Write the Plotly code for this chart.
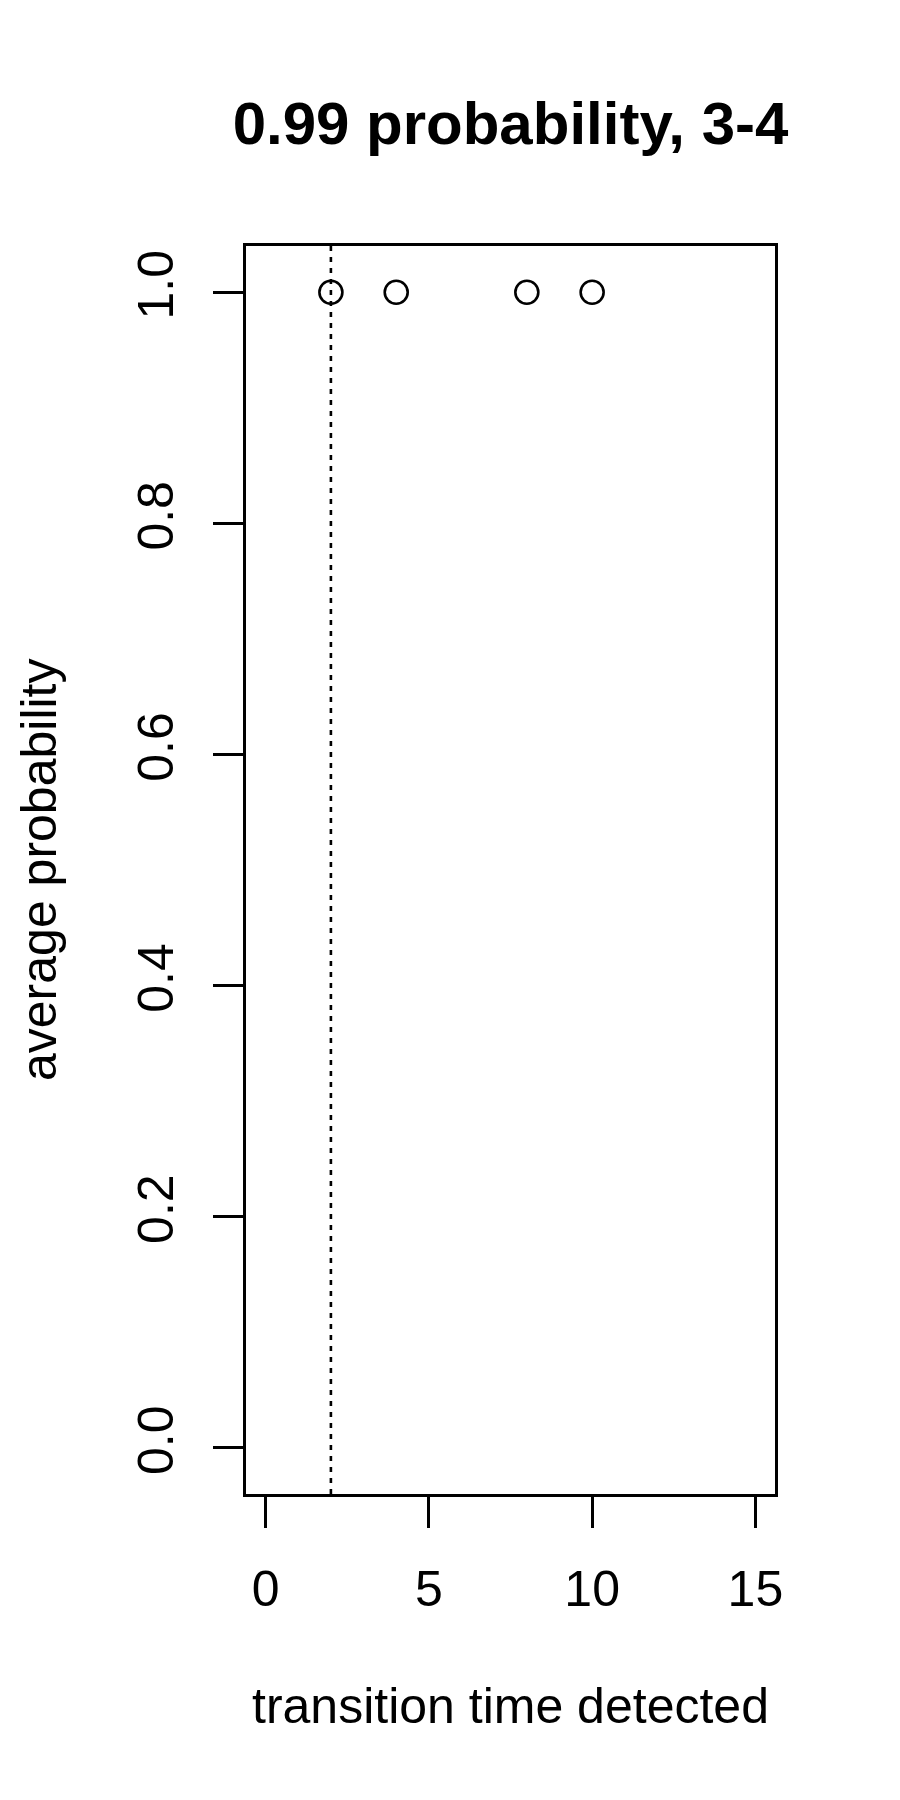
import plotly.graph_objects as go

# Data
transition_time = [2, 4, 8, 10]
avg_probability = [1.0, 1.0, 1.0, 1.0]
true_transition = 2
x_ticks = [0, 5, 10, 15]
y_ticks = [0.0, 0.2, 0.4, 0.6, 0.8, 1.0]
y_tick_text = ["0.0", "0.2", "0.4", "0.6", "0.8", "1.0"]

FONT = "Liberation Sans, Arial, Helvetica, sans-serif"

fig = go.Figure()
fig.add_trace(go.Scatter(
    x=transition_time, y=avg_probability, mode="markers",
    marker=dict(symbol="circle-open", size=23, color="black",
                line=dict(color="black", width=2.6)),
    showlegend=False, hoverinfo="x+y"))

fig.add_shape(type="line", xref="x", yref="paper",
              x0=true_transition, x1=true_transition, y0=0, y1=1,
              line=dict(color="black", width=2.6, dash="5px,6px"), layer="below")

W, H = 900, 1800
L, R, T, B = 246, 125, 246, 306

fig.update_layout(
    width=W, height=H,
    margin=dict(l=L, r=R, t=T, b=B, pad=0),
    paper_bgcolor="white", plot_bgcolor="white",
    font=dict(family=FONT, size=50, color="black"),
    title=dict(text="<b>0.99 probability, 3-4</b>", x=(L + (W - R)) / 2 / W,
               xanchor="center", xref="container",
               y=1 - 123 / H, yanchor="middle", yref="container",
               font=dict(size=60, family=FONT, color="black")),
    xaxis=dict(range=[-0.6, 15.6], tickvals=x_ticks, ticktext=[str(v) for v in x_ticks],
               showgrid=False, zeroline=False, showline=True, mirror=True,
               linecolor="black", linewidth=2.6, ticks="outside", ticklen=31,
               tickwidth=2.6, tickcolor="black", ticklabelstandoff=18,
               tickfont=dict(size=50, family=FONT)),
    yaxis=dict(range=[-0.04, 1.04], tickvals=y_ticks, ticktext=y_tick_text,
               tickangle=-90,
               showgrid=False, zeroline=False, showline=True, mirror=True,
               linecolor="black", linewidth=2.6, ticks="outside", ticklen=30,
               tickwidth=2.6, tickcolor="black", ticklabelstandoff=20,
               tickfont=dict(size=50, family=FONT)),
)

fig.add_annotation(text="transition time detected", xref="paper", yref="paper",
                   x=0.5, y=0, xanchor="center", yanchor="middle",
                   yshift=-(1706 - (H - B)), showarrow=False,
                   font=dict(size=50, family=FONT, color="black"))
fig.add_annotation(text="average probability", xref="paper", yref="paper",
                   x=0, y=0.5, xanchor="center", yanchor="middle", textangle=-90,
                   xshift=-(L - 39), showarrow=False,
                   font=dict(size=50, family=FONT, color="black"))

fig.write_html("out.html")
